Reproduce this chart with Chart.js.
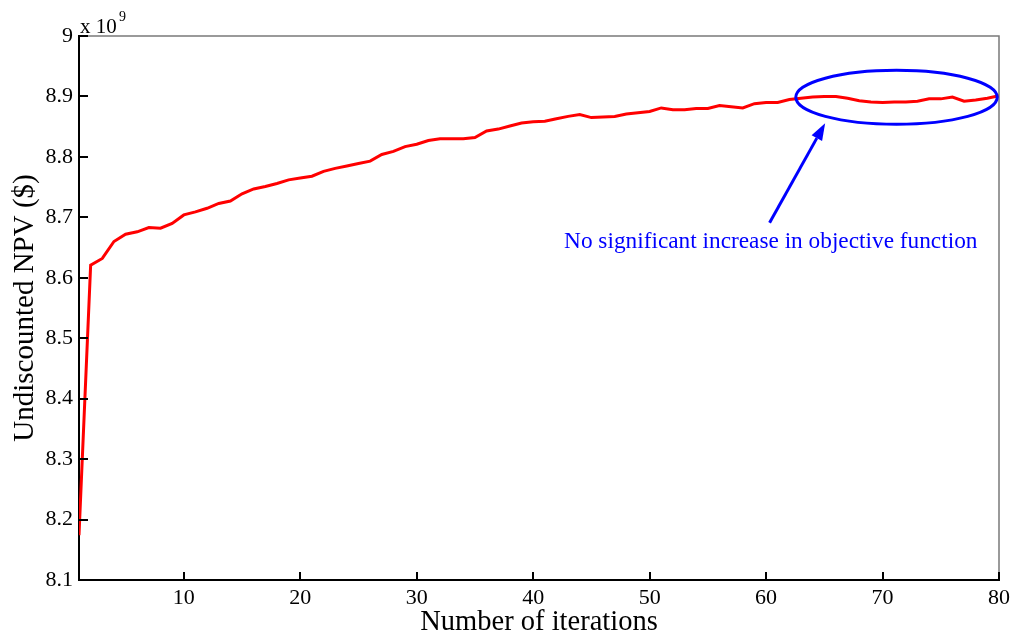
<!DOCTYPE html>
<html>
<head>
<meta charset="utf-8">
<script src="https://cdn.jsdelivr.net/npm/chart.js@4/dist/chart.umd.min.js"></script>
<style>
  html, body { margin: 0; padding: 0; background: #fff; }
  #wrap { width: 1016px; height: 637px; }
</style>
</head>
<body>
<div id="wrap"><canvas id="npvChart" width="1016" height="637"></canvas></div>
<script>
// iteration number
var iterations = [1, 2, 3, 4, 5, 6, 7, 8, 9, 10, 11, 12, 13, 14, 15, 16, 17, 18, 19, 20,
    21, 22, 23, 24, 25, 26, 27, 28, 29, 30, 31, 32, 33, 34, 35, 36, 37, 38, 39, 40,
    41, 42, 43, 44, 45, 46, 47, 48, 49, 50, 51, 52, 53, 54, 55, 56, 57, 58, 59, 60,
    61, 62, 63, 64, 65, 66, 67, 68, 69, 70, 71, 72, 73, 74, 75, 76, 77, 78, 79, 80];

// undiscounted NPV, in units of 1e9 $
var npv = [8.174, 8.621, 8.632, 8.660, 8.672, 8.676, 8.683, 8.682, 8.690, 8.704,
    8.709, 8.715, 8.723, 8.727, 8.739, 8.747, 8.751, 8.756, 8.762, 8.765,
    8.768, 8.776, 8.781, 8.785, 8.789, 8.793, 8.804, 8.809, 8.817, 8.821,
    8.827, 8.830, 8.830, 8.830, 8.832, 8.843, 8.846, 8.851, 8.856, 8.858,
    8.859, 8.863, 8.867, 8.870, 8.865, 8.866, 8.867, 8.871, 8.873, 8.875,
    8.881, 8.878, 8.878, 8.880, 8.880, 8.885, 8.883, 8.881, 8.888, 8.890,
    8.890, 8.895, 8.897, 8.899, 8.900, 8.900, 8.897, 8.893, 8.891, 8.890,
    8.891, 8.891, 8.892, 8.896, 8.896, 8.899, 8.892, 8.894, 8.897, 8.901];

var xTicks = [10, 20, 30, 40, 50, 60, 70, 80];
var yTicks = [8.1, 8.2, 8.3, 8.4, 8.5, 8.6, 8.7, 8.8, 8.9, 9.0];

var noteText = 'No significant increase in objective function';

var serif = '"Liberation Serif", "Times New Roman", serif';

var points = [];
for (var i = 0; i < iterations.length; i++) {
    points.push({ x: iterations[i], y: npv[i] });
}

// inward ticks, gray top/right box, exponent label and the blue annotation
var extrasPlugin = {
    id: 'extras',
    afterDraw: function(chart) {
        var ctx = chart.ctx;
        var area = chart.chartArea;
        var xs = chart.scales.x;
        var ys = chart.scales.y;

        ctx.save();
        ctx.strokeStyle = '#7a7a7a';
        ctx.lineWidth = 1.5;
        ctx.beginPath();
        ctx.moveTo(area.left, area.top);
        ctx.lineTo(area.right, area.top);
        ctx.lineTo(area.right, area.bottom);
        ctx.stroke();

        ctx.strokeStyle = '#000';
        ctx.lineWidth = 2;
        ctx.beginPath();
        yTicks.forEach(function(v) {
            var py = Math.round(ys.getPixelForValue(v));
            ctx.moveTo(area.left, py);
            ctx.lineTo(area.left + 9, py);
        });
        xTicks.forEach(function(v) {
            var px = Math.round(xs.getPixelForValue(v));
            ctx.moveTo(px, area.bottom);
            ctx.lineTo(px, area.bottom - 8);
        });
        ctx.stroke();

        // x 10^9
        ctx.fillStyle = '#000';
        ctx.textBaseline = 'alphabetic';
        ctx.textAlign = 'left';
        ctx.font = '21px ' + serif;
        ctx.fillText('x 10', area.left + 1, area.top - 3);
        ctx.font = '14px ' + serif;
        ctx.fillText('9', area.left + 40, area.top - 15);

        // ellipse around the plateau
        var cx = xs.getPixelForValue(71.2);
        var cy = ys.getPixelForValue(8.8986);
        var rx = xs.getPixelForValue(71.2 + 8.65) - cx;
        var ry = cy - ys.getPixelForValue(8.8986 + 0.0447);
        ctx.strokeStyle = '#0000ff';
        ctx.lineWidth = 3;
        ctx.beginPath();
        ctx.ellipse(cx, cy, rx, ry, 0, 0, Math.PI * 2);
        ctx.stroke();

        // arrow
        var x0 = xs.getPixelForValue(60.3), y0 = ys.getPixelForValue(8.691);
        var x1 = xs.getPixelForValue(65.07), y1 = ys.getPixelForValue(8.8556);
        var ang = Math.atan2(y1 - y0, x1 - x0);
        var headLen = 17, headW = 6;
        var bx = x1 - headLen * Math.cos(ang), by = y1 - headLen * Math.sin(ang);
        ctx.beginPath();
        ctx.moveTo(x0, y0);
        ctx.lineTo(bx, by);
        ctx.stroke();
        ctx.fillStyle = '#0000ff';
        ctx.beginPath();
        ctx.moveTo(x1, y1);
        ctx.lineTo(bx + headW * Math.sin(ang), by - headW * Math.cos(ang));
        ctx.lineTo(bx - headW * Math.sin(ang), by + headW * Math.cos(ang));
        ctx.closePath();
        ctx.fill();

        // note
        ctx.font = '23.3px ' + serif;
        ctx.textAlign = 'center';
        ctx.fillText(noteText, xs.getPixelForValue(60.4), ys.getPixelForValue(8.649));
        ctx.restore();
    }
};

var ctxL = document.getElementById('npvChart').getContext('2d');
var npvChart = new Chart(ctxL, {
    type: 'line',
    data: {
        datasets: [{
            label: 'Undiscounted NPV',
            data: points,
            borderColor: '#ff0000',
            borderWidth: 3,
            pointRadius: 0,
            tension: 0,
            fill: false
        }]
    },
    options: {
        responsive: false,
        animation: false,
        layout: { padding: { top: 36, right: 17, left: 0, bottom: 0 } },
        plugins: {
            legend: { display: false },
            tooltip: { enabled: false }
        },
        scales: {
            x: {
                type: 'linear',
                min: 1,
                max: 80,
                grid: { display: false, drawTicks: false },
                border: { display: true, color: '#000', width: 2 },
                afterBuildTicks: function(axis) {
                    axis.ticks = xTicks.map(function(v) { return { value: v }; });
                },
                afterFit: function(axis) { axis.height = 57; },
                ticks: {
                    autoSkip: false,
                    maxRotation: 0,
                    padding: 5,
                    color: '#000',
                    font: { family: serif, size: 22 }
                },
                title: {
                    display: true,
                    text: 'Number of iterations',
                    color: '#000',
                    font: { family: serif, size: 28.5, lineHeight: 1 },
                    padding: { top: 0, bottom: 0 }
                }
            },
            y: {
                min: 8.1,
                max: 9,
                grid: { display: false, drawTicks: false },
                border: { display: true, color: '#000', width: 2 },
                afterBuildTicks: function(axis) {
                    axis.ticks = yTicks.map(function(v) { return { value: v }; });
                },
                afterFit: function(axis) { axis.width = 79; },
                ticks: {
                    padding: 6,
                    color: '#000',
                    font: { family: serif, size: 22 },
                    callback: function(value) { return String(Number(value.toFixed(1))); }
                },
                title: {
                    display: true,
                    text: 'Undiscounted NPV ($)',
                    color: '#000',
                    font: { family: serif, size: 29, lineHeight: 1 },
                    padding: { top: 11, bottom: 0 }
                }
            }
        }
    },
    plugins: [extrasPlugin]
});
</script>
</body>
</html>
